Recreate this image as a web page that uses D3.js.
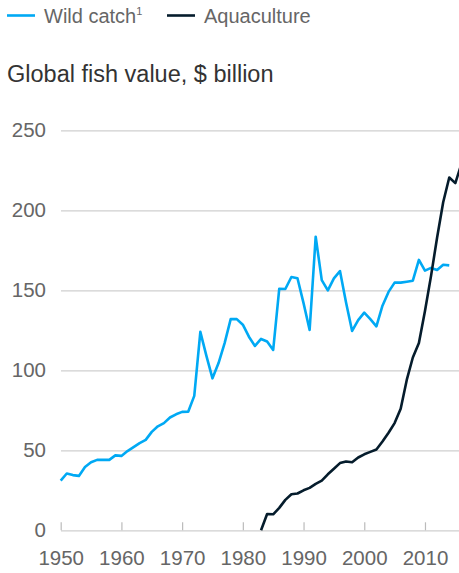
<!DOCTYPE html>
<html>
<head>
<meta charset="utf-8">
<script src="https://cdn.jsdelivr.net/npm/d3@7"></script>
<style>
  body { margin: 0; background: #fff; }
  svg { display: block; font-family: "Liberation Sans", Arial, sans-serif; }
</style>
</head>
<body>
<svg id="svg" width="459" height="573"></svg>
<script>
// data, $ billion
var wildYears = d3.range(1950, 2015);
var wildValues = [31, 35.5, 34.5, 34, 39.5, 42.5, 44, 44, 44, 46.8,
  46.5, 49.5, 52, 54.5, 56.5, 61.5, 65, 67, 70.5, 72.5,
  74, 74.1, 84, 124, 109, 95, 104.5, 117, 132, 132,
  128.5, 121, 115.2, 119.6, 118, 112.7, 151, 150.8, 158.3, 157.5,
  142, 125.2, 183.5, 156.4, 150, 157.5, 162, 142.3, 124.6, 131.4,
  136, 132, 127.5, 140.4, 149, 154.8, 154.8, 155.4, 156, 169,
  162.3, 164, 162.7, 166, 165.6];

var aquaYears = d3.range(1983, 2017);
var aquaValues = [0, 10.2, 10, 14, 19, 22.5, 23, 25, 26.5, 29,
  31, 35, 38.5, 42, 43, 42.5, 45.5, 47.5, 49, 50.5,
  55.5, 61, 67, 76, 94, 108, 117, 137, 159, 183,
  205, 220.5, 217, 229];

var yTicks = [0, 50, 100, 150, 200, 250];
var xTicks = [1950, 1960, 1970, 1980, 1990, 2000, 2010];

var series = [
  {name: "Wild catch", sup: "1", color: "#00a9f4", years: wildYears, values: wildValues},
  {name: "Aquaculture", sup: "", color: "#051c2c", years: aquaYears, values: aquaValues}
];

var W = 459;
var svg = d3.select("#svg");

var x = d3.scaleLinear().domain([1950, 2016]).range([60.7, 461.4]);
var y = d3.scaleLinear().domain([0, 250]).range([530.3, 130.3]);

// gridlines + y labels
var yAxis = svg.append("g")
  .attr("transform", "translate(61,0)")
  .call(d3.axisLeft(y).tickValues(yTicks).tickSize(-(W - 61)).tickPadding(15));
yAxis.select(".domain").remove();
yAxis.selectAll(".tick line").attr("stroke", "#cfcfcf").attr("stroke-width", 1.2);
yAxis.selectAll(".tick text")
  .attr("fill", "#666").attr("font-size", 20.5).attr("font-family", "Liberation Sans, Arial, sans-serif");

// x ticks (point up) + labels
var xAxis = svg.append("g")
  .attr("transform", "translate(0," + y(0) + ")")
  .call(d3.axisBottom(x).tickValues(xTicks).tickFormat(d3.format("d")).tickSize(-8).tickPadding(20));
xAxis.select(".domain").remove();
xAxis.selectAll(".tick line").attr("stroke", "#bbb").attr("stroke-width", 1.2);
xAxis.selectAll(".tick text")
  .attr("fill", "#666").attr("font-size", 20.5).attr("font-family", "Liberation Sans, Arial, sans-serif");

// lines
var line = d3.line()
  .x(function(d){ return x(d[0]); })
  .y(function(d){ return y(d[1]); });

series.forEach(function(s){
  var pts = s.years.map(function(yr, i){ return [yr, s.values[i]]; });
  svg.append("path")
    .datum(pts)
    .attr("fill", "none")
    .attr("stroke", s.color)
    .attr("stroke-width", 2.6)
    .attr("stroke-linejoin", "round")
    .attr("d", line);
});

// legend
var legendX = [7, 167];
series.forEach(function(s, i){
  var g = svg.append("g").attr("transform", "translate(" + legendX[i] + ",0)");
  g.append("line")
    .attr("x1", 0).attr("x2", 28).attr("y1", 15.5).attr("y2", 15.5)
    .attr("stroke", s.color).attr("stroke-width", 2.6);
  var t = g.append("text")
    .attr("x", 37).attr("y", 23)
    .attr("fill", "#666").attr("font-size", 20)
    .text(s.name);
  if (s.sup) {
    t.append("tspan").attr("font-size", 11).attr("dy", -8).text(s.sup);
  }
});

// title
svg.append("text")
  .attr("x", 7).attr("y", 82)
  .attr("fill", "#333").attr("font-size", 23.5)
  .text("Global fish value, $ billion");
</script>
</body>
</html>
